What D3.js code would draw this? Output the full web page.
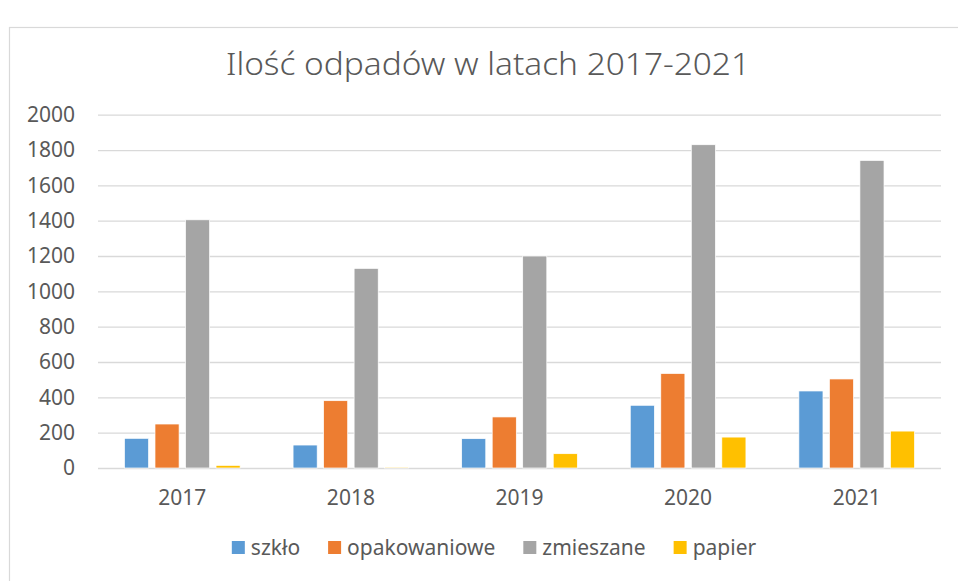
<!DOCTYPE html>
<html>
<head>
<meta charset="utf-8">
<script src="https://cdn.jsdelivr.net/npm/d3@7"></script>
<style>
  body { margin: 0; background: #fff; }
  .canvas { width: 958px; height: 581px; }
  text { font-family: "Noto Sans", "Open Sans", sans-serif; fill: #595959; }
  .grid line { stroke: #d9d9d9; stroke-width: 1.3; }
</style>
</head>
<body>
<div class="canvas"></div>
<script>
// data
var years = ['2017', '2018', '2019', '2020', '2021'];
var seriesNames = ['szkło', 'opakowaniowe', 'zmieszane', 'papier'];
var szklo = [168, 130, 166, 355, 436];
var opakowaniowe = [249, 381, 289, 535, 504];
var zmieszane = [1405, 1130, 1200, 1830, 1741];
var papier = [15, 5, 81, 175, 209];
var yTicks = [0, 200, 400, 600, 800, 1000, 1200, 1400, 1600, 1800, 2000];

var values = [szklo, opakowaniowe, zmieszane, papier];
var colors = ['#5B9BD5', '#ED7D31', '#A5A5A5', '#FFC000'];

var width = 958, height = 581;
var plotLeft = 98, plotRight = 941, plotTop = 114.7, plotBottom = 468;

var svg = d3.select('.canvas').append('svg')
	.attr('width', width).attr('height', height);

// chart border (runs off the right and bottom edge)
svg.append('rect')
	.attr('x', 9.5).attr('y', 27.5)
	.attr('width', 980).attr('height', 600)
	.attr('fill', 'none').attr('stroke', '#d9d9d9').attr('stroke-width', 1.2);

svg.append('text')
	.attr('x', 488).attr('y', 75)
	.attr('text-anchor', 'middle')
	.attr('font-size', 32)
	.attr('font-weight', 300)
	.attr('textLength', 524).attr('lengthAdjust', 'spacingAndGlyphs')
	.text('Ilość odpadów w latach 2017-2021');

var y = d3.scaleLinear().domain([0, 2000]).range([plotBottom, plotTop]);

var x0 = d3.scaleBand().domain(years).range([plotLeft, plotRight]);
var edge = x0.bandwidth() * 0.157;
var x1 = d3.scaleBand().domain(seriesNames)
	.range([edge, x0.bandwidth() - edge])
	.paddingInner(0.21);

// gridlines + y labels
var yAxis = d3.axisLeft(y)
	.tickValues(yTicks)
	.tickSize(-(plotRight - plotLeft))
	.tickPadding(23)
	.tickFormat(d3.format('d'));

var gy = svg.append('g')
	.attr('class', 'grid')
	.attr('transform', 'translate(' + plotLeft + ',0)')
	.call(yAxis);
gy.select('.domain').remove();
gy.selectAll('text').attr('font-size', 21).style('fill', '#595959');

// bars
var groups = svg.selectAll('g.year')
	.data(years)
	.enter()
	.append('g')
	.classed('year', true)
	.attr('transform', function(d) { return 'translate(' + x0(d) + ',0)'; });

groups.selectAll('rect')
	.data(function(d, i) {
		return seriesNames.map(function(s, j) { return { s: s, v: values[j][i], c: colors[j] }; });
	})
	.enter()
	.append('rect')
	.attr('x', function(d) { return x1(d.s); })
	.attr('width', x1.bandwidth())
	.attr('y', function(d) { return y(d.v); })
	.attr('height', function(d) { return plotBottom - y(d.v); })
	.attr('fill', function(d) { return d.c; })
	.attr('stroke', '#fff').attr('stroke-width', 0.7);

// x labels
var xAxis = d3.axisBottom(x0).tickSize(0).tickPadding(22);
var gx = svg.append('g')
	.attr('transform', 'translate(0,' + plotBottom + ')')
	.call(xAxis);
gx.select('.domain').remove();
gx.selectAll('text').attr('font-size', 21).style('fill', '#595959');

// legend
var legend = svg.append('g');
var lx = 0;
seriesNames.forEach(function(s, i) {
	var item = legend.append('g').attr('transform', 'translate(' + lx + ',0)');
	item.append('rect')
		.attr('x', 0).attr('y', -7)
		.attr('width', 13).attr('height', 13)
		.attr('fill', colors[i]);
	var t = item.append('text')
		.attr('x', 19).attr('y', 0)
		.attr('dy', '0.35em')
		.attr('font-size', 21)
		.text(s);
	lx += 19 + t.node().getComputedTextLength() + 28;
});
lx -= 28;
legend.attr('transform', 'translate(' + (494 - lx / 2) + ',548)');
</script>
</body>
</html>
